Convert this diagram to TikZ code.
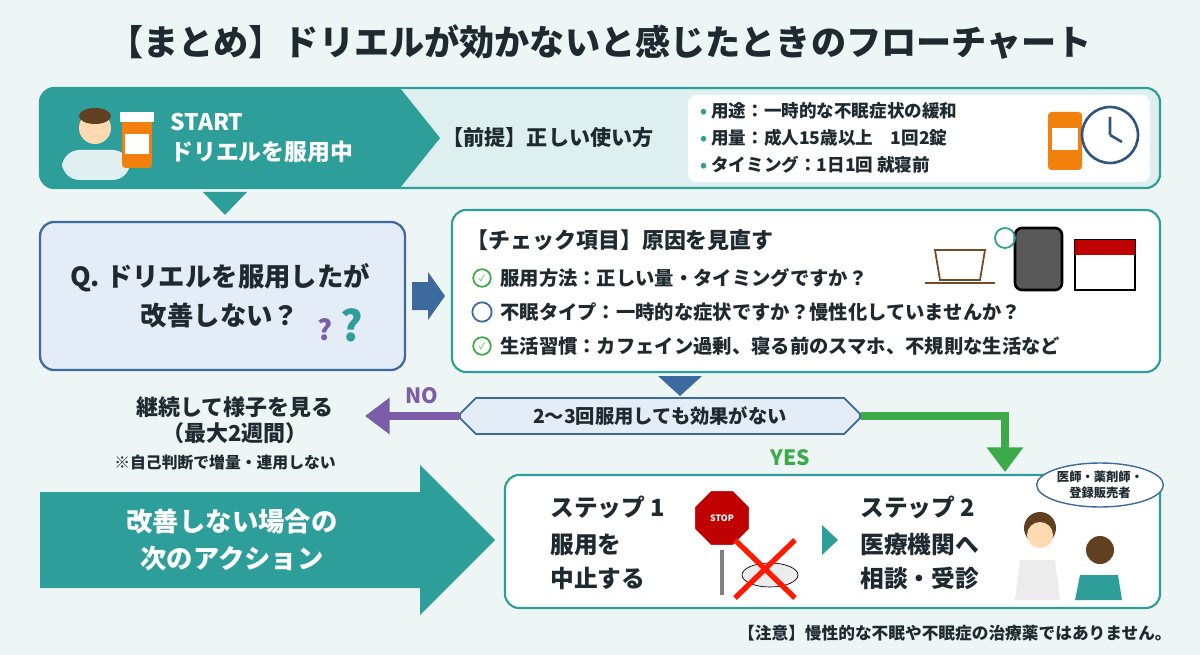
\documentclass[tikz,border=0pt]{standalone}
\usepackage{fontspec}
\setmainfont{Noto Sans CJK JP}
\usetikzlibrary{shapes.geometric,shapes.misc,arrows.meta}
\definecolor{teal1}{HTML}{2E9E9A}
\definecolor{teal2}{HTML}{DDF0EF}
\definecolor{bg}{HTML}{EEF6F5}
\definecolor{navy}{HTML}{3C6A9E}
\definecolor{qbox}{HTML}{E3ECF7}
\definecolor{purp}{HTML}{7B5EA7}
\definecolor{grn}{HTML}{3DAA4A}
\definecolor{txt}{HTML}{1E2A30}
\tikzset{
  txt/.style={text=txt, font=\bfseries\fontsize{11}{13}\selectfont, inner sep=0pt},
  big/.style={txt, font=\bfseries\fontsize{14}{19}\selectfont},
  box/.style={draw=teal1, line width=1.2pt, rounded corners=8pt, fill=white},
  check/.style={circle, draw=grn, line width=1pt, minimum size=10pt, inner sep=0pt},
}
\begin{document}
\begin{tikzpicture}[x=0.02cm,y=-0.02cm]
\fill[bg] (0,0) rectangle (1200,655);
\useasboundingbox (0,0) rectangle (1200,655);
% title
\node [txt, font=\bfseries\fontsize{20}{24}\selectfont] (title) at (600,42) {【まとめ】ドリエルが効かないと感じたときのフローチャート};
% start banner
\draw [box, fill=teal2] (40,88) rectangle (1160,188);
\fill [teal1, rounded corners=8pt] (40,88) -- (400,88) -- (400,188) -- (40,188) -- cycle;
\fill [teal1] (380,88) -- (400,88) -- (440,138) -- (400,188) -- (380,188) -- cycle;
\node [txt, text=white, font=\bfseries\fontsize{13}{17}\selectfont, align=left, anchor=west] (start) at (170,138) {START\\ドリエルを服用中};
\fill [white!85!teal1, rounded corners=10pt] (62,150) rectangle (130,180);
\fill [orange!30!white] (95,128) circle (16);
\fill [brown!50!black] (95,116) ellipse (16 and 8);
\fill [orange!80!brown, rounded corners=2pt] (122,120) rectangle (152,168); \fill [white] (125,134) rectangle (149,154);
\fill [white] (120,112) rectangle (154,122);
\node [txt, font=\bfseries\fontsize{12}{15}\selectfont] (premise) at (548,138) {【前提】正しい使い方};
\draw [fill=white, draw=none, rounded corners=5pt] (688,95) rectangle (1150,182);
\node [txt, anchor=west, align=left, font=\bfseries\fontsize{10}{15.5}\selectfont] (usage) at (700,138) {\textcolor{teal1}{•} 用途：一時的な不眠症状の緩和\\\textcolor{teal1}{•} 用量：成人15歳以上\quad 1回2錠\\\textcolor{teal1}{•} タイミング：1日1回 就寝前};
\fill [orange!80!brown, rounded corners=2pt] (1048,112) rectangle (1082,170); \fill [white] (1052,128) rectangle (1078,150);
\draw [navy!80!black, line width=1.5pt, fill=white] (1110,135) circle (28);
\draw [navy!80!black, line width=1.5pt] (1110,135) -- (1110,117) (1110,135) -- (1122,142);
% arrow down
\fill [teal1] (203,192) -- (247,192) -- (225,215) -- cycle;
% question box
\draw [draw=navy, line width=1.3pt, fill=qbox, rounded corners=8pt] (40,222) rectangle (405,370);
\node [big, font=\bfseries\fontsize{15}{22}\selectfont, align=center] (q) at (220,296) {Q. ドリエルを服用したが\\改善しない？};
\node [txt, text=purp, font=\bfseries\fontsize{16}{16}\selectfont] (q1) at (325,330) {?};
\node [txt, text=teal1, font=\bfseries\fontsize{24}{24}\selectfont] (q2) at (352,325) {?};
\fill [navy] (412,282) -- (428,282) -- (428,272) -- (445,296) -- (428,320) -- (428,310) -- (412,310) -- cycle;
% check box
\draw [box] (452,210) rectangle (1160,372);
\node [txt, anchor=west, font=\bfseries\fontsize{12.5}{15}\selectfont] (chk) at (466,240) {【チェック項目】原因を見直す};
\node [check] (c1) at (482,278) {\tiny\textcolor{grn}{✓}};
\node [txt, anchor=west] (l1) at (500,278) {服用方法：正しい量・タイミングですか？};
\node [circle, draw=navy, line width=1pt, minimum size=11pt, inner sep=0pt] (c2) at (482,312) {};
\node [txt, anchor=west] (l2) at (500,312) {不眠タイプ：一時的な症状ですか？慢性化していませんか？};
\node [check] (c3) at (482,346) {\tiny\textcolor{grn}{✓}};
\node [txt, anchor=west] (l3) at (500,346) {生活習慣：カフェイン過剰、寝る前のスマホ、不規則な生活など};
\draw [brown!60!black, line width=1pt, fill=white] (935,250) -- (985,250) -- (980,280) -- (940,280) -- cycle;
\draw [brown!60!black, line width=1pt] (925,283) -- (995,283);
\draw [line width=1.5pt, fill=gray!70!black, rounded corners=4pt] (1015,228) rectangle (1062,290);
\draw [line width=1pt, fill=white] (1075,240) rectangle (1135,290); \fill [red!75!black] (1075,240) rectangle (1135,255);
\draw [teal1, line width=1pt] (1005,238) circle (10);
% arrow down
\fill [navy] (658,376) -- (702,376) -- (680,396) -- cycle;
% decision
\node [draw=navy, line width=1pt, fill=qbox, chamfered rectangle, chamfered rectangle xsep=2cm, minimum width=8cm, minimum height=0.72cm, txt] (dec) at (660,416) {2〜3回服用しても効果がない};
% NO
\draw [purp, line width=5pt, -{Triangle[length=14pt,width=20pt]}] (dec.west) -- (365,416);
\node [txt, text=purp, font=\bfseries\fontsize{12}{14}\selectfont] (no) at (422,396) {NO};
\node [big, font=\bfseries\fontsize{12.5}{15}\selectfont, align=center] (cont) at (235,420) {継続して様子を見る\\（最大2週間）};
\node [txt, font=\bfseries\fontsize{9}{11}\selectfont] (warn) at (225,462) {※自己判断で増量・連用しない};
% YES
\coordinate (ycorner) at (1005,416);
\coordinate (yend) at (1005,472);
\draw [grn, line width=5pt, -{Triangle[length=14pt,width=20pt]}] (dec.east) -- (ycorner) -- (yend);
\node [txt, text=grn, font=\bfseries\fontsize{12}{14}\selectfont] (yes) at (790,458) {YES};
% next action arrow
\fill [teal1] (40,492) -- (420,492) -- (420,465) -- (495,540) -- (420,615) -- (420,588) -- (40,588) -- cycle;
\node [big, text=white, font=\bfseries\fontsize{15}{21}\selectfont, align=center] (act) at (232,540) {改善しない場合の\\次のアクション};
% steps
\draw [box] (505,475) rectangle (1160,608);
\node [big, align=left, anchor=north west, font=\bfseries\fontsize{13.5}{19}\selectfont] (s1) at (550,496) {ステップ 1\\[2pt]服用を\\中止する};
\node [regular polygon, regular polygon sides=8, fill=red!75!black, draw=white, line width=1pt, minimum size=1.2cm, text=white, font=\bfseries\tiny] (stop) at (722,518) {STOP};
\draw [gray, line width=2pt] (722,550) -- (722,595);
\draw [fill=gray!15] (770,575) ellipse (28 and 12);
\draw [red!80!orange, line width=3pt] (735,540) -- (795,598) (795,540) -- (735,598);
\fill [teal1] (822,525) -- (838,540) -- (822,555) -- cycle;
\node [big, align=left, anchor=north west, font=\bfseries\fontsize{13.5}{19}\selectfont] (s2) at (860,496) {ステップ 2\\[2pt]医療機関へ\\相談・受診};
\fill [white!85!gray] (1020,560) -- (1055,560) -- (1060,600) -- (1015,600) -- cycle;
\fill [brown!50!black] (1040,528) circle (16);
\fill [orange!30!white] (1040,535) circle (13);
\fill [teal1] (1080,575) -- (1118,575) -- (1122,600) -- (1075,600) -- cycle;
\fill [brown!50!black] (1100,550) circle (14);
\node [draw=navy, fill=white, ellipse, line width=0.8pt, txt, font=\bfseries\fontsize{7}{9}\selectfont, align=center, inner sep=1pt] (bub) at (1100,485) {医師・薬剤師・\\登録販売者};
% footer
\node [txt, anchor=east, font=\bfseries\fontsize{9.5}{11}\selectfont] (note) at (1172,633) {【注意】慢性的な不眠や不眠症の治療薬ではありません。};
\end{tikzpicture}
\end{document}
